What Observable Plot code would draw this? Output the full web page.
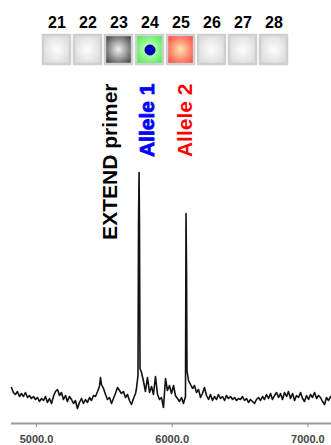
<!DOCTYPE html>
<html>
<head>
<meta charset="utf-8">
<script src="https://cdn.jsdelivr.net/npm/d3@7"></script>
<script src="https://cdn.jsdelivr.net/npm/@observablehq/plot@0.6"></script>
<style>
  html, body { margin: 0; padding: 0; background: #fff; }
  #chart svg { display: block; }
</style>
</head>
<body>
<div id="chart"></div>
<script>
// Well strip
const wells = [21, 22, 23, 24, 25, 26, 27, 28];
const wellStates = ["empty", "empty", "primer", "allele1", "allele2", "empty", "empty", "empty"];

// Peak annotations
const peakLabels = ["EXTEND primer", "Allele 1", "Allele 2"];
const peakLabelMass = [5530, 5803, 6083];

// X axis ticks
const xTicks = [5000, 6000, 7000];

// Spectrum trace (mass, relative intensity)
const masses = [
  4816, 4830, 4845, 4860, 4875, 4889, 4904, 4919, 4934, 4948, 4963, 4978, 4993, 5007, 5022, 5037,
  5052, 5066, 5081, 5096, 5111, 5125, 5140, 5155, 5170, 5184, 5199, 5214, 5228, 5243, 5258, 5273,
  5287, 5302, 5317, 5332, 5346, 5361, 5376, 5391, 5405, 5420, 5435, 5450, 5464, 5472, 5479, 5494,
  5509, 5523, 5538, 5553, 5567, 5582, 5597, 5612, 5626, 5641, 5656, 5671, 5685, 5700, 5715, 5730,
  5737, 5748, 5752, 5756, 5759, 5763, 5774, 5789, 5803, 5818, 5833, 5848, 5862, 5877, 5892, 5907,
  5921, 5936, 5951, 5965, 5980, 5995, 6010, 6024, 6039, 6054, 6069, 6083, 6098, 6102, 6106, 6109,
  6120, 6135, 6150, 6164, 6179, 6194, 6209, 6223, 6238, 6253, 6268, 6282, 6297, 6312, 6327, 6341,
  6356, 6371, 6386, 6400, 6415, 6430, 6445, 6460, 6474, 6489, 6503, 6518, 6533, 6548, 6562, 6577,
  6592, 6607, 6621, 6636, 6651, 6666, 6680, 6695, 6710, 6725, 6739, 6754, 6769, 6784, 6798, 6813,
  6828, 6843, 6857, 6872, 6887, 6902, 6916, 6931, 6946, 6961, 6975, 6990, 7005, 7019, 7034, 7049,
  7064, 7078, 7093, 7108, 7123, 7137, 7152, 7167
];
const intensities = [
  36, 31, 29, 32, 27, 30, 27, 31, 26, 28, 25, 27, 24, 26, 22, 25,
  23, 27, 21, 25, 20, 27, 32, 34, 28, 31, 24, 28, 22, 27, 24, 20,
  23, 15, 21, 25, 20, 24, 21, 26, 23, 28, 27, 32, 37, 46, 39, 35,
  29, 24, 26, 20, 25, 30, 36, 33, 30, 32, 26, 29, 23, 19, 25, 30,
  35, 48, 200, 251, 200, 55, 51, 42, 32, 46, 31, 37, 29, 47, 29, 24,
  26, 16, 45, 33, 38, 30, 38, 28, 25, 22, 26, 20, 27, 210, 150, 53,
  43, 39, 35, 38, 31, 34, 26, 30, 36, 28, 24, 29, 23, 27, 24, 29,
  25, 27, 23, 28, 25, 27, 24, 26, 23, 25, 24, 27, 23, 25, 21, 24,
  22, 20, 24, 26, 23, 27, 24, 29, 25, 30, 24, 28, 31, 26, 30, 24,
  31, 27, 32, 25, 30, 23, 28, 26, 31, 25, 22, 28, 24, 29, 26, 31,
  25, 28, 26, 22, 19, 26, 23, 27
];

const spectrum = masses.map((m, i) => ({mass: m, intensity: intensities[i]}));
const labels = peakLabels.map((t, i) => ({label: t, mass: peakLabelMass[i]}));

const font = "'Liberation Sans', Arial, Helvetica, sans-serif";
const labelColor = {"EXTEND primer": "#000000", "Allele 1": "#0000ff", "Allele 2": "#ff0000"};

// Header: well strip
const header = Plot.plot({
  width: 331,
  height: 75,
  marginLeft: 38,
  marginRight: 39,
  marginTop: 35,
  marginBottom: 11,
  style: {fontFamily: font, background: "#fff"},
  x: {type: "band", domain: wells, padding: 0.12, axis: null},
  color: {type: "identity"},
  marks: [
    Plot.cell(wells, {x: d => d, fill: (d, i) => "url(#g-" + wellStates[i] + ")", stroke: "#cfcfcf", strokeWidth: 2.5}),
    Plot.dot(wells.filter((d, i) => wellStates[i] === "allele1"), {x: d => d, frameAnchor: "middle", r: 5, fill: "#0000cc", stroke: "#00006a", strokeWidth: 1}),
    Plot.text(wells, {x: d => d, text: d => String(d), frameAnchor: "top", dy: -19, fontSize: 16, fontWeight: "bold", fill: "#000"})
  ]
});

const grads = {
  empty: ["#fdfdfd", "#dadada"],
  primer: ["#f2f2f2", "#4a4a4a"],
  allele1: ["#e0ffe0", "#50ee50"],
  allele2: ["#ffe6a8", "#ff4d4d"]
};
const defs = d3.select(header).insert("defs", ":first-child");
for (const [k, [c0, c1]] of Object.entries(grads)) {
  const g = defs.append("radialGradient").attr("id", "g-" + k).attr("cx", "50%").attr("cy", "50%").attr("r", "60%");
  g.append("stop").attr("offset", "0%").attr("stop-color", c0);
  g.append("stop").attr("offset", "100%").attr("stop-color", c1);
}

// Main spectrum
const main = Plot.plot({
  width: 331,
  height: 370,
  marginLeft: 11,
  marginRight: 0,
  marginTop: 0,
  marginBottom: 22,
  style: {fontFamily: font, background: "#fff"},
  x: {domain: [4816, 7174], label: null},
  y: {domain: [0, 348], axis: null},
  color: {type: "identity"},
  marks: [
    Plot.ruleY([0], {stroke: "#9a9a9a", strokeWidth: 2}),
    Plot.axisX(xTicks, {tickSize: 4, tickPadding: 8, tickFormat: d => d.toFixed(1), fontSize: 11, fontWeight: "bold", stroke: "#8a8a8a", fill: "#444", label: null}),
    Plot.line(spectrum, {x: "mass", y: "intensity", stroke: "#111", strokeWidth: 1.6}),
    Plot.text(labels, {
      x: "mass", text: "label", frameAnchor: "top", dy: 8, dx: -6, rotate: -90, textAnchor: "end",
      fill: d => labelColor[d.label], stroke: d => d.label === "Allele 1" ? "#0000ff" : "none", strokeWidth: 0.8,
      fontSize: 21, fontWeight: "bold"
    })
  ]
});

const chart = document.getElementById("chart");
chart.appendChild(header);
chart.appendChild(main);
</script>
</body>
</html>
